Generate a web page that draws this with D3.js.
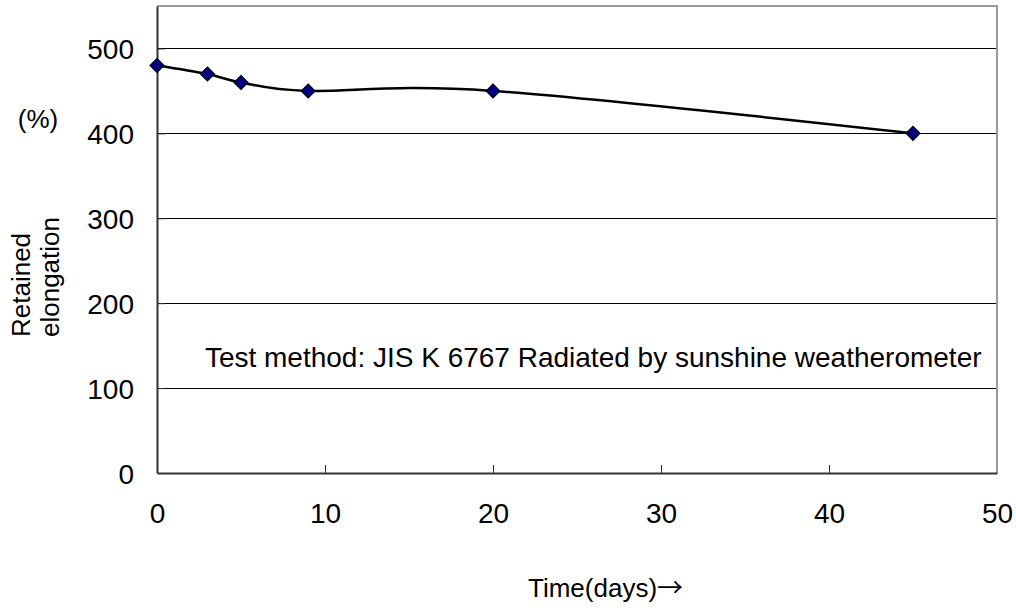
<!DOCTYPE html>
<html>
<head>
<meta charset="utf-8">
<script src="https://cdn.jsdelivr.net/npm/d3@7"></script>
<style>
  body { margin: 0; background: #fff; }
  text { font-family: "Liberation Sans", Arial, sans-serif; fill: #000; }
</style>
</head>
<body>
<div id="chart"></div>
<script>
// data
const days = [0, 3, 5, 9, 20, 45];
const elongation = [480, 470, 460, 450, 450, 400];
const xTicks = [0, 10, 20, 30, 40, 50];
const yTicks = [0, 100, 200, 300, 400, 500];

const W = 1016, H = 610;
const margin = {top: 6, right: 19, bottom: 137, left: 157};
const plotW = W - margin.left - margin.right;
const plotH = H - margin.top - margin.bottom;

const svg = d3.select("#chart").append("svg")
  .attr("width", W)
  .attr("height", H);

const g = svg.append("g")
  .attr("transform", "translate(" + margin.left + "," + margin.top + ")");

const x = d3.scaleLinear().domain([0, 50]).range([0, plotW]);
const y = d3.scaleLinear().domain([0, 550]).range([plotH, 0]);

// gridlines
g.selectAll("line.grid")
  .data(yTicks.filter(d => d > 0))
  .enter().append("line")
  .attr("class", "grid")
  .attr("x1", 0).attr("x2", plotW)
  .attr("y1", d => y(d)).attr("y2", d => y(d))
  .attr("stroke", "#000")
  .attr("stroke-width", 1)
  .attr("shape-rendering", "crispEdges");

// top and right border (grey)
g.append("path")
  .attr("d", "M0,0H" + plotW + "V" + plotH)
  .attr("fill", "none")
  .attr("stroke", "#999")
  .attr("stroke-width", 2);

// axes, ticks drawn inward
const xAxis = g.append("g")
  .attr("transform", "translate(0," + plotH + ")")
  .call(d3.axisBottom(x).tickValues(xTicks).tickSizeInner(-8).tickSizeOuter(0).tickPadding(30));

const yAxis = g.append("g")
  .call(d3.axisLeft(y).tickValues(yTicks).tickSizeInner(-8).tickSizeOuter(0).tickPadding(23));

[xAxis, yAxis].forEach(a => {
  a.select(".domain").attr("stroke", "#333").attr("stroke-width", 2);
  a.selectAll(".tick line").attr("stroke", "#333").attr("stroke-width", 1);
  a.selectAll(".tick text")
    .style("font-family", '"Liberation Sans", Arial, sans-serif')
    .style("font-size", "28px")
    .attr("fill", "#000");
});
yAxis.selectAll(".tick text").attr("dy", "0.36em");
// hide tick marks at the axis corners / right edge
xAxis.selectAll(".tick line").filter(d => d === 0 || d === 50).attr("stroke", "none");
yAxis.selectAll(".tick line").filter(d => d === 0).attr("stroke", "none");

// smoothed line
const pts = days.map((d, i) => [d, elongation[i]]);
const line = d3.line()
  .x(d => x(d[0]))
  .y(d => y(d[1]))
  .curve(d3.curveCardinal.tension(0));

g.append("path")
  .datum(pts)
  .attr("d", line)
  .attr("fill", "none")
  .attr("stroke", "#000")
  .attr("stroke-width", 2.5);

// diamond markers
g.selectAll("path.marker")
  .data(pts)
  .enter().append("path")
  .attr("class", "marker")
  .attr("d", d3.symbol(d3.symbolSquare, 100))
  .attr("transform", d => "translate(" + x(d[0]) + "," + y(d[1]) + ") rotate(45)")
  .attr("fill", "#000080")
  .attr("stroke", "#000")
  .attr("stroke-width", 1);

// annotation
g.append("text")
  .attr("x", x(2.85))
  .attr("y", y(100) - 21)
  .style("font-size", "28px")
  .text("Test method: JIS K 6767 Radiated by sunshine weatherometer");

// y axis title
svg.append("text")
  .attr("transform", "translate(30,337) rotate(-90)")
  .style("font-size", "26px")
  .text("Retained");
svg.append("text")
  .attr("transform", "translate(59,337) rotate(-90)")
  .style("font-size", "26px")
  .text("elongation");
svg.append("text")
  .attr("x", 38)
  .attr("y", 128)
  .attr("text-anchor", "middle")
  .style("font-size", "26px")
  .text("(%)");

// x axis title
const xt = svg.append("text")
  .attr("x", 528)
  .attr("y", 597)
  .style("font-size", "26px");
xt.append("tspan").text("Time(days)");
xt.append("tspan")
  .style("font-family", '"Noto Sans CJK JP", sans-serif')
  .text("→");
</script>
</body>
</html>
